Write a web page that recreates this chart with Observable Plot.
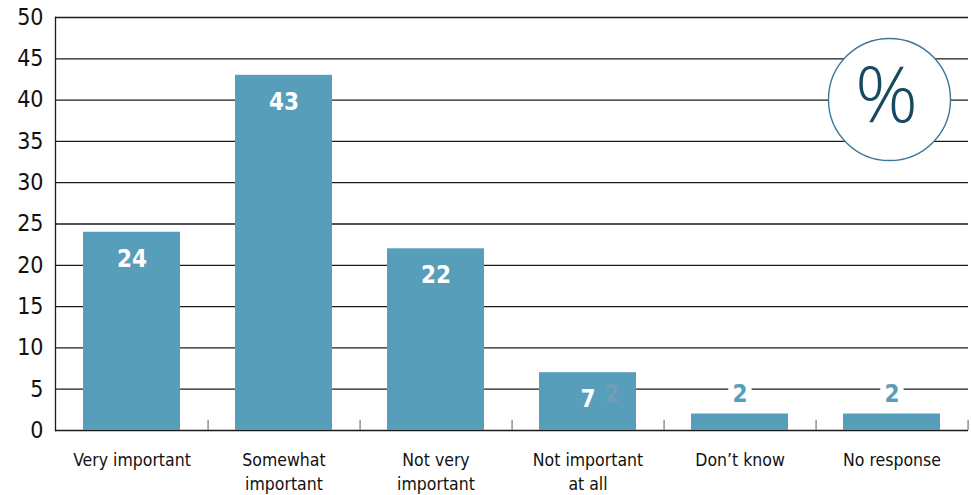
<!DOCTYPE html>
<html>
<head>
<meta charset="utf-8">
<script src="https://cdn.jsdelivr.net/npm/d3@7"></script>
<script src="https://cdn.jsdelivr.net/npm/@observablehq/plot@0.6"></script>
<style>
  html, body { margin: 0; padding: 0; background: #fff; }
  #chart { width: 971px; height: 495px; }
  #chart svg text { font-stretch: condensed; }
  #chart svg .pct text { font-stretch: normal; }
</style>
</head>
<body>
<div id="chart"></div>
<script>
const categories = ["Very important", "Somewhat\nimportant", "Not very\nimportant", "Not important\nat all", "Don\u2019t know", "No response"];
const values = [24, 43, 22, 7, 2, 2];
const yTicks = [0, 5, 10, 15, 20, 25, 30, 35, 40, 45, 50];

const data = categories.map((c, i) => ({category: c, value: values[i]}));
const inside = data.filter(d => d.value >= 5);
const outside = data.filter(d => d.value < 5);

const barColor = "#569eba";
const font = "'Liberation Sans Narrow', 'DejaVu Sans Condensed', 'Roboto Condensed', 'Liberation Sans', sans-serif";
const W = 971, H = 495, mL = 55, mR = 3;
const step = (W - mL - mR) / categories.length;

const chart = Plot.plot({
  width: W,
  height: H,
  marginLeft: mL,
  marginRight: mR,
  marginTop: 17,
  marginBottom: 65,
  style: {fontFamily: font, background: "#fff", overflow: "visible"},
  x: {domain: categories, paddingInner: 0.36, paddingOuter: 0.18, align: 0.5, label: null},
  y: {domain: [0, 50], label: null},
  marks: [
    Plot.ruleY(yTicks, {stroke: "#1a1a1a", strokeWidth: 1.3}),
    Plot.frame({anchor: "left", stroke: "#1a1a1a", strokeWidth: 1.3}),
    Plot.ruleX(categories, {x: d => d, y1: 0, y2: 1.25, dx: step / 2, stroke: "#777", strokeWidth: 1.2}),
    Plot.barY(data, {x: "category", y: "value", fill: barColor}),
    Plot.text(inside, {x: "category", y: "value", text: d => String(d.value), dy: 27, fill: "white", fontSize: 24, fontWeight: "bold"}),
    Plot.text(outside, {x: "category", y: "value", text: d => String(d.value), dy: -20, fill: barColor, stroke: "white", strokeWidth: 12, fontSize: 24, fontWeight: "bold"}),
    Plot.text(data.filter(d => d.value === 7), {x: "category", y: "value", text: () => "2", dx: 24, dy: 22, fill: "#7a9fb2", fillOpacity: 0.8, fontSize: 24, fontWeight: "bold"}),
    Plot.axisY(yTicks, {tickSize: 0, tickPadding: 12, fontSize: 23, fill: "#111", textAnchor: "end"}),
    Plot.axisX({tickSize: 0, tickPadding: 19, fontSize: 17.5, fill: "#111", lineHeight: 1.35}),
    Plot.dot([0], {frameAnchor: "top-right", dx: -79, dy: 82, r: 61, stroke: "#3f7596", strokeWidth: 1.4, fill: "white"}),
    Plot.text([0], {className: "pct", frameAnchor: "top-right", dx: -82, dy: 80, textAnchor: "middle", lineAnchor: "middle", text: () => "%", fontSize: 78, fontWeight: 300, fill: "#17495f", fontFamily: "'Open Sans', 'Noto Sans', sans-serif"})
  ]
});
document.getElementById("chart").appendChild(chart);
</script>
</body>
</html>
